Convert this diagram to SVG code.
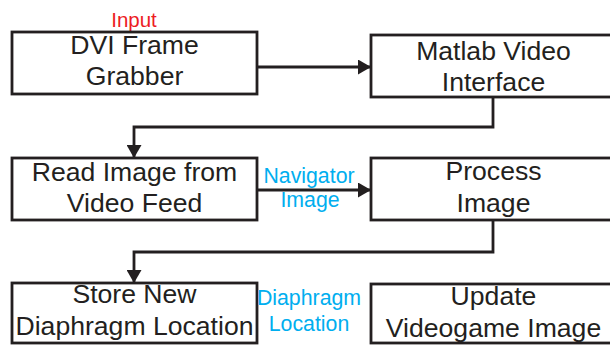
<svg xmlns="http://www.w3.org/2000/svg" width="610" height="345" viewBox="0 0 610 345">
<style>
.box{fill:#fff;stroke:#231f20;stroke-width:2.8}
.t{font-family:"Liberation Sans",Arial,sans-serif;font-size:26.6px;fill:#231f20;text-anchor:middle}
.lbl{font-family:"Liberation Sans",Arial,sans-serif;font-size:21.3px;fill:#00aeef;text-anchor:middle}
.in{font-family:"Liberation Sans",Arial,sans-serif;font-size:20.5px;fill:#ed1c24;text-anchor:middle}
.c{fill:none;stroke:#231f20;stroke-width:2.8}
</style>
<defs>
<marker id="ah" markerUnits="userSpaceOnUse" markerWidth="13" markerHeight="15" refX="12" refY="7.5" orient="auto">
<path d="M0,0 L13,7.5 L0,15 Z" fill="#231f20"/>
</marker>
</defs>
<rect width="610" height="345" fill="#fff"/>
<g id="connectors">
<path class="c" d="M258,67 H370" marker-end="url(#ah)"/>
<path class="c" d="M493,97 V127 H134 V157" marker-end="url(#ah)"/>
<path class="c" d="M258,190 H370" marker-end="url(#ah)"/>
<path class="c" d="M493,220 V252 H134 V282" marker-end="url(#ah)"/>
</g>
<g id="input-label"><text class="in" x="134" y="27">Input</text></g>
<g id="n1">
<rect class="box" x="12" y="32" width="245" height="62"/>
<text class="t" x="134.5" y="54">DVI Frame</text>
<text class="t" x="134.5" y="85">Grabber</text>
</g>
<g id="n2">
<rect class="box" x="371" y="35" width="245" height="62"/>
<text class="t" x="493.5" y="60">Matlab Video</text>
<text class="t" x="493.5" y="91">Interface</text>
</g>
<g id="n3">
<rect class="box" x="12" y="158" width="245" height="62"/>
<text class="t" x="134.5" y="181">Read Image from</text>
<text class="t" x="134.5" y="212">Video Feed</text>
</g>
<g id="n4">
<rect class="box" x="371" y="158" width="245" height="62"/>
<text class="t" x="493.5" y="180">Process</text>
<text class="t" x="493.5" y="212">Image</text>
</g>
<g id="n5">
<rect class="box" x="12" y="283" width="245" height="60"/>
<text class="t" x="134.5" y="303">Store New</text>
<text class="t" x="134.5" y="335">Diaphragm Location</text>
</g>
<g id="n6">
<rect class="box" x="371" y="284" width="245" height="59"/>
<text class="t" x="493.5" y="305">Update</text>
<text class="t" x="493.5" y="337">Videogame Image</text>
</g>
<g id="edge-labels">
<text class="lbl" x="309" y="183">Navigator</text>
<text class="lbl" x="310" y="207">Image</text>
<text class="lbl" x="309" y="305">Diaphragm</text>
<text class="lbl" x="309" y="331">Location</text>
</g>
</svg>
